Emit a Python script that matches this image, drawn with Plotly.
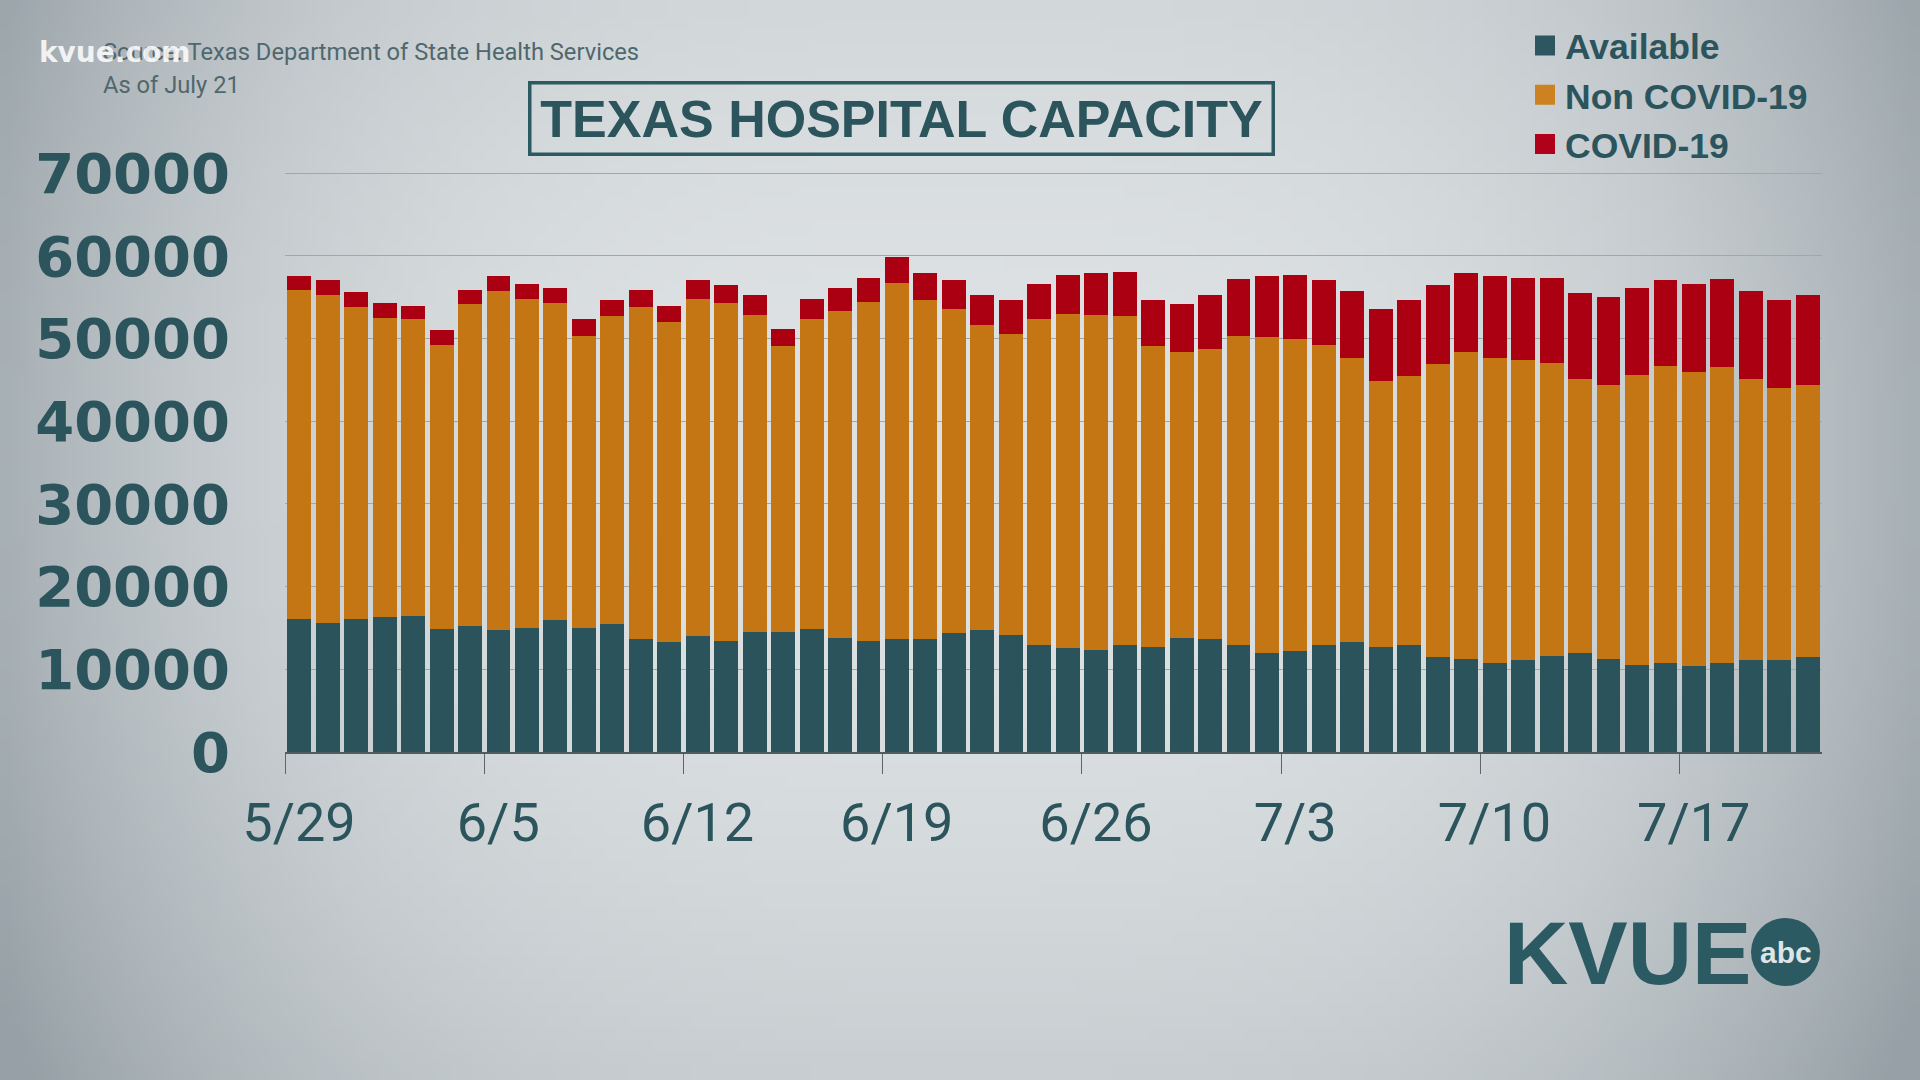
import base64
import struct
import zlib

import numpy as np
import pandas as pd
import plotly.graph_objects as go

# ---------------- data ----------------
dates = pd.date_range("2020-05-29", "2020-07-21", freq="D")

available = [16100, 15600, 16100, 16310, 16510, 14850, 15230, 14730, 15020, 15980,
             15020, 15440, 13610, 13280, 13980, 13440, 14520, 14520, 14850, 13780,
             13440, 13610, 13610, 14360, 14730, 14150, 12900, 12530, 12370, 12900,
             12700, 13780, 13610, 12900, 11990, 12160, 12900, 13280, 12700, 12900,
             11450, 11240, 10710, 11120, 11620, 11990, 11240, 10540, 10710, 10370,
             10710, 11120, 11120, 11450]

non_covid = [39830, 39630, 37720, 36180, 35810, 34440, 38920, 41040, 39830, 38340,
             35310, 37260, 40170, 38710, 40870, 40880, 38340, 34570, 37470, 39620,
             41040, 43070, 41080, 39250, 36890, 36390, 39420, 40500, 40490, 39800,
             36390, 34600, 35100, 37470, 38180, 37840, 36350, 34350, 32200, 32540,
             35480, 37140, 36920, 36310, 35480, 33070, 33120, 35100, 36010, 35650,
             35850, 33940, 32900, 32910]

covid = [1620, 1820, 1780, 1830, 1660, 1790, 1780, 1780, 1790, 1780,
         1990, 1990, 2150, 1950, 2200, 2150, 2370, 2110, 2530, 2700,
         2910, 3150, 3240, 3440, 3610, 4150, 4320, 4690, 5070, 5390,
         5600, 5770, 6520, 6810, 7380, 7720, 7800, 8140, 8710, 9250,
         9540, 9550, 9920, 9960, 10290, 10500, 10660, 10460, 10330, 10620,
         10660, 10710, 10670, 10870]

series_names = ["Available", "Non COVID-19", "COVID-19"]
y_ticks = [0, 10000, 20000, 30000, 40000, 50000, 60000, 70000]

# ---------------- styling ----------------
W, H = 1920, 1080
ML, MR, MT, MB = 285, 98, 170, 328
PW, PH = W - ML - MR, H - MT - MB
Y_TOP = 70400

TEAL = "#2a535c"
ORANGE = "#c47614"
RED = "#aa0012"
LEG_COLORS = ["#2d5660", "#cc8220", "#b0001a"]
TEXT = "#2b545d"


def px_x(px):
    return (px - ML) / PW


def px_y(py):
    return (H - MB - py) / PH


def gradient_png(w=160, h=90):
    u = np.linspace(0, 1, w)[None, :]
    v = np.linspace(0, 1, h)[:, None]
    dx = (u - 0.5) / 0.5
    dy = (v - 0.42) / 0.58
    t = np.clip(0.75 * np.abs(dx) ** 3 + 0.3 * dy ** 2, 0, 1)
    c0 = np.array([222, 226, 228], dtype=float)
    c1 = np.array([150, 160, 166], dtype=float)
    img = (c0[None, None, :] + (c1 - c0)[None, None, :] * t[..., None]).astype(np.uint8)
    raw = b"".join(b"\x00" + img[r].tobytes() for r in range(h))

    def chunk(tag, data):
        return (struct.pack(">I", len(data)) + tag + data
                + struct.pack(">I", zlib.crc32(tag + data) & 0xFFFFFFFF))

    png = (b"\x89PNG\r\n\x1a\n"
           + chunk(b"IHDR", struct.pack(">IIBBBBB", w, h, 8, 2, 0, 0, 0))
           + chunk(b"IDAT", zlib.compress(raw, 9))
           + chunk(b"IEND", b""))
    return "data:image/png;base64," + base64.b64encode(png).decode()


fig = go.Figure()
for name, vals, col in zip(series_names, [available, non_covid, covid], [TEAL, ORANGE, RED]):
    fig.add_trace(go.Bar(
        x=dates, y=vals, name=name, legendgroup=name, showlegend=False,
        xperiod=86400000, xperiodalignment="middle",
        marker=dict(color=col, line=dict(width=0)),
    ))
# legend entries (larger square swatches, no plotted data)
for name, col in zip(series_names, LEG_COLORS):
    fig.add_trace(go.Scatter(
        x=[None], y=[None], mode="markers", name=name, legendgroup=name,
        marker=dict(symbol="square", size=16, color=col, line=dict(color=col, width=4)),
    ))

fig.update_layout(
    width=W, height=H,
    margin=dict(l=ML, r=MR, t=MT, b=MB, pad=0, autoexpand=False),
    barmode="stack", bargap=0.16,
    paper_bgcolor="#d3d8db",
    plot_bgcolor="rgba(0,0,0,0)",
    showlegend=True,
    legend=dict(
        xref="container", yref="container",
        x=1525 / W, y=1 - 16 / H, xanchor="left", yanchor="top",
        traceorder="normal",
        bgcolor="rgba(0,0,0,0)",
        font=dict(family="Liberation Sans, Arial, sans-serif", size=35.5, color=TEXT, weight="bold"),
    ),
    images=[dict(
        source=gradient_png(), xref="paper", yref="paper",
        x=px_x(0), y=px_y(0), sizex=W / PW, sizey=H / PH,
        xanchor="left", yanchor="top", sizing="stretch", layer="below",
    )],
)

fig.update_xaxes(
    type="date",
    range=["2020-05-29", "2020-07-22"],
    tick0="2020-05-29", dtick=7 * 86400000,
    tickformat="%-m/%-d",
    ticks="outside", ticklen=20, tickwidth=1.3, tickcolor="#5d676b",
    showline=True, linecolor="#4f5c60", linewidth=1.5,
    showgrid=False, zeroline=False,
    ticklabelshift=14, ticklabelstandoff=2,
    tickfont=dict(family="Roboto, sans-serif", size=54, color=TEXT),
)
fig.update_yaxes(
    range=[0, Y_TOP], tickvals=y_ticks, tickformat="d",
    showgrid=True, gridcolor="#a0a8ac", gridwidth=1.4,
    zeroline=False, showline=False, ticks="",
    ticklabelstandoff=54,
    tickfont=dict(family="DejaVu Sans, sans-serif", size=56, color=TEXT, weight="bold"),
)

# title box
fig.add_annotation(
    text="TEXAS HOSPITAL CAPACITY", xref="paper", yref="paper",
    x=px_x(901), y=px_y(118), xanchor="center", yanchor="middle",
    width=740, height=68, borderpad=0, borderwidth=3.5, bordercolor="#2b5a63",
    showarrow=False,
    font=dict(family="Liberation Sans, Arial, sans-serif", size=52, color=TEXT, weight="bold"),
)

# source lines
fig.add_annotation(
    text="Source: Texas Department of State Health Services", xref="paper", yref="paper",
    x=px_x(101), y=px_y(52), xanchor="left", yanchor="middle", showarrow=False,
    font=dict(family="Roboto, sans-serif", size=23.7, color="#50676d"),
)
fig.add_annotation(
    text="As of July 21", xref="paper", yref="paper",
    x=px_x(101), y=px_y(85), xanchor="left", yanchor="middle", showarrow=False,
    font=dict(family="Roboto, sans-serif", size=23.7, color="#50676d"),
)
# watermark
fig.add_annotation(
    text="kvue.com", xref="paper", yref="paper",
    x=px_x(37), y=px_y(52), xanchor="left", yanchor="middle", showarrow=False,
    font=dict(family="DejaVu Sans, sans-serif", size=28, color="rgba(255,255,255,0.85)", weight="bold"),
)

# KVUE abc logo
fig.add_annotation(
    text="KVUE", xref="paper", yref="paper",
    x=px_x(1627), y=px_y(953), xanchor="center", yanchor="middle", showarrow=False,
    font=dict(family="Liberation Sans, Arial, sans-serif", size=89, color="#2b5a63", weight="bold"),
)
fig.add_shape(
    type="circle", xref="paper", yref="paper",
    x0=px_x(1751), x1=px_x(1820), y0=px_y(986), y1=px_y(918),
    fillcolor="#2b5a63", line=dict(width=0),
)
fig.add_annotation(
    text="abc", xref="paper", yref="paper",
    x=px_x(1785.5), y=px_y(952), xanchor="center", yanchor="middle", showarrow=False,
    font=dict(family="Liberation Sans, Arial, sans-serif", size=30, color="#dfe4e6", weight="bold"),
)

fig.write_html("out.html", config={"displayModeBar": False},
               post_script="document.body.style.margin='0';")
